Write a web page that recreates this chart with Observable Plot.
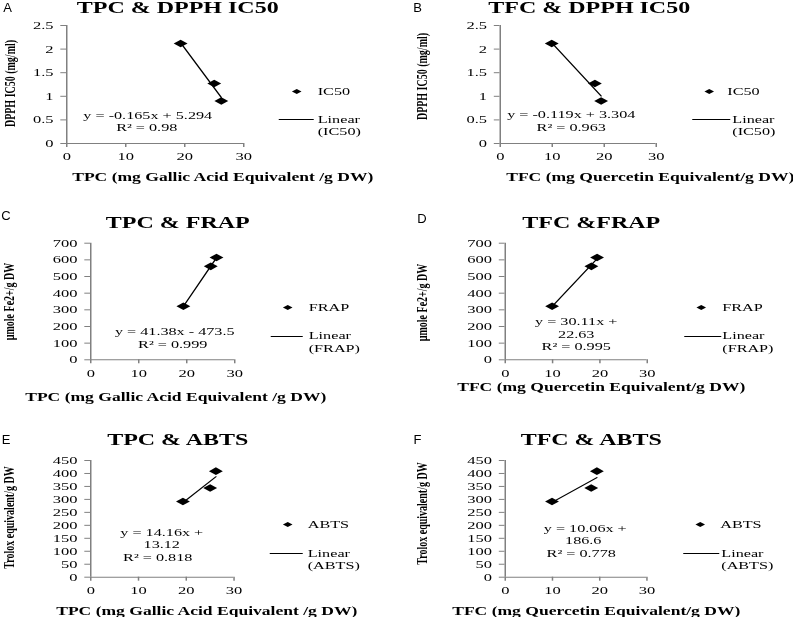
<!DOCTYPE html>
<html><head><meta charset="utf-8">
<script src="https://cdn.jsdelivr.net/npm/d3@7"></script>
<script src="https://cdn.jsdelivr.net/npm/@observablehq/plot@0.6"></script>
<style>
html,body{margin:0;padding:0;background:#fff;}
#fig{position:relative;width:793px;height:617px;overflow:hidden;background:#fff;}
#stage{position:absolute;left:0;top:0;height:617px;transform-origin:0 0;}
.panel{position:absolute;}
.letter{position:absolute;font-family:"Liberation Sans",Arial,sans-serif;font-size:13px;line-height:1;transform:translate(-50%,-50%);color:#000;}
</style></head><body>
<div id="fig"><div id="stage"></div></div>
<script>
// ---- data ----
const tpc  = [19.3, 25.0, 26.2];   // mg GAE / g DW
const tfc  = [9.9, 18.2, 19.4];    // mg QE / g DW
const ic50 = [2.12, 1.27, 0.90];   // DPPH IC50 mg/ml
const frap = [321, 561, 614];      // µmole Fe2+/g DW
const abts = [292, 344, 409];      // Trolox equivalent/g DW

const xTicks    = [0, 10, 20, 30];
const ic50Ticks = [0, 0.5, 1, 1.5, 2, 2.5];
const frapTicks = [0, 100, 200, 300, 400, 500, 600, 700];
const abtsTicks = [0, 50, 100, 150, 200, 250, 300, 350, 400, 450];

const letters = ["A", "B", "C", "D", "E", "F"];
const titles  = ["TPC & DPPH IC50", "TFC & DPPH IC50", "TPC & FRAP", "TFC &FRAP", "TPC & ABTS", "TFC & ABTS"];
const xTitles = ["TPC (mg Gallic Acid Equivalent /g DW)", "TFC (mg Quercetin Equivalent/g DW)"];
const yTitles = ["DPPH IC50 (mg/ml)", "µmole Fe2+/g DW", "Trolox equivalent/g DW"];
const seriesNames = ["IC50", "FRAP", "ABTS"];
const equations = [
  ["y = -0.165x + 5.294", "R² = 0.98"],
  ["y = -0.119x + 3.304", "R² = 0.963"],
  ["y = 41.38x - 473.5", "R² = 0.999"],
  ["y = 30.11x +", "22.63", "R² = 0.995"],
  ["y = 14.16x +", "13.12", "R² = 0.818"],
  ["y = 10.06x +", "186.6", "R² = 0.778"]
];

// ---- layout (pixel positions in the final picture) ----
const SX = 1.5; // the reference figure is stretched horizontally
const layouts = [
  {ox:0,   oy:0,   w:400, h:200, x0:66,  x30:243,   y0:143,   yTop:25,
   title:[177,7.5], xT:[222,177], yT:[9,83], eq:[[147,115],[146,127.5]],
   dia:[296,91], lab:[317,91], line:[278,313,119], l1:[317,119], l2:[317,131.5], letter:[7.5,7]},
  {ox:400, oy:0,   w:393, h:200, x0:499, x30:655,   y0:143,   yTop:25,
   title:[588,7.5], xT:[649,177], yT:[420.5,76], eq:[[570,114.5],[570,127]],
   dia:[708,91], lab:[726,91], line:[691,729,119], l1:[731,119], l2:[731,131.5], letter:[417.5,7]},
  {ox:0,   oy:200, w:400, h:210, x0:90,  x30:234,   y0:359.3, yTop:242.7,
   title:[177,222], xT:[175,397], yT:[8,301], eq:[[174,331.5],[172,344]],
   dia:[287,307], lab:[308,307], line:[270,302,336], l1:[308,335.5], l2:[308,348], letter:[6,215]},
  {ox:400, oy:200, w:393, h:210, x0:504, x30:646,   y0:359.3, yTop:242.7,
   title:[590,222], xT:[600,387], yT:[420.5,302], eq:[[575,321.5],[575,334],[575,346.5]],
   dia:[700,307], lab:[721,307], line:[683,720,336], l1:[721,335.5], l2:[721,348], letter:[422,218]},
  {ox:0,   oy:410, w:400, h:207, x0:90,  x30:233.3, y0:576.7, yTop:460,
   title:[177,439], xT:[206,611], yT:[8.5,517], eq:[[161,532],[161,544.5],[157,557]],
   dia:[287,524], lab:[307,524], line:[269,302,553], l1:[307,553], l2:[307,565.5], letter:[6,439]},
  {ox:400, oy:410, w:393, h:207, x0:504, x30:645.7, y0:576.7, yTop:460,
   title:[590,439], xT:[595,611], yT:[420.5,513], eq:[[584,528],[582,540.5],[580,553]],
   dia:[699,524], lab:[719,524], line:[682,718,553], l1:[720,553], l2:[720,565.5], letter:[417.5,439]}
];

const panelData = [
  {xs: tpc, ys: ic50, yMax: 2.5, yTicks: ic50Ticks, xT: xTitles[0], yT: yTitles[0], s: seriesNames[0]},
  {xs: tfc, ys: ic50, yMax: 2.5, yTicks: ic50Ticks, xT: xTitles[1], yT: yTitles[0], s: seriesNames[0]},
  {xs: tpc, ys: frap, yMax: 700, yTicks: frapTicks, xT: xTitles[0], yT: yTitles[1], s: seriesNames[1]},
  {xs: tfc, ys: frap, yMax: 700, yTicks: frapTicks, xT: xTitles[1], yT: yTitles[1], s: seriesNames[1]},
  {xs: tpc, ys: abts, yMax: 450, yTicks: abtsTicks, xT: xTitles[0], yT: yTitles[2], s: seriesNames[2]},
  {xs: tfc, ys: abts, yMax: 450, yTicks: abtsTicks, xT: xTitles[1], yT: yTitles[2], s: seriesNames[2]}
];

const wideDiamond = {draw(ctx, size) {
  const r = Math.sqrt(size / Math.PI), rx = r * 1.1, ry = r * 0.9;
  ctx.moveTo(0, -ry); ctx.lineTo(rx, 0); ctx.lineTo(0, ry); ctx.lineTo(-rx, 0); ctx.closePath();
}};
const hline = {draw(ctx, size) {
  const r = Math.sqrt(size / Math.PI);
  ctx.moveTo(-r, 0); ctx.lineTo(r, 0);
}};

const axisColor = "#808080";
const annoSize = 10.8;
const serif = "'Liberation Serif','Times New Roman',serif";
const stage = document.getElementById("stage");
stage.style.width = (793 / SX) + "px";
stage.style.transform = `scaleX(${SX})`;
const fig = document.getElementById("fig");

panelData.forEach((p, k) => {
  const L = layouts[k];
  const mL = (L.x0 - L.ox) / SX, mR = (L.ox + L.w - L.x30) / SX;
  const mT = L.yTop - L.oy, mB = L.oy + L.h - L.y0;
  const at = (px, py) => ({frameAnchor: "top-left", dx: (px - L.ox) / SX - mL, dy: (py - L.oy) - mT});
  const rows = p.xs.map((x, i) => ({x, y: p.ys[i]}));
  const txt = (s, pos, o) => Plot.text([s], {text: d => d, ...at(pos[0], pos[1]), lineAnchor: "middle", fill: "black", ...o});

  const marks = [
    Plot.ruleX([0], {y1: 0, y2: p.yMax, stroke: axisColor}),
    Plot.ruleY([0], {x1: 0, x2: 30, stroke: axisColor}),
    Plot.axisX({ticks: xTicks, tickSize: 4, tickPadding: 5, stroke: axisColor, fill: "black", fontSize: 11, label: null, tickFormat: d => String(d)}),
    Plot.axisY({ticks: p.yTicks, tickSize: 3.8, tickPadding: 5, stroke: axisColor, fill: "black", fontSize: 11, label: null, tickFormat: d => String(d)}),
    Plot.linearRegressionY(rows, {x: "x", y: "y", ci: 0, stroke: "black", strokeWidth: 1}),
    Plot.dot(rows, {x: "x", y: "y", symbol: wideDiamond, r: 4.2, fill: "black", stroke: "none"}),
    txt(titles[k], L.title, {fontWeight: "bold", fontSize: 16, textAnchor: "middle"}),
    txt(p.xT, L.xT, {fontWeight: "bold", fontSize: 11.7, textAnchor: "middle"}),
    txt(p.yT, L.yT, {fontWeight: "bold", fontSize: 10, textAnchor: "middle", rotate: -90}),
    ...equations[k].map((s, i) => txt(s, L.eq[i], {fontSize: annoSize, textAnchor: "middle"})),
    Plot.dot([0], {...at(L.dia[0], L.dia[1]), symbol: wideDiamond, r: 2.9, fill: "black", stroke: "none"}),
    txt(p.s, L.lab, {fontSize: annoSize, textAnchor: "start"}),
    Plot.dot([0], {...at((L.line[0] + L.line[1]) / 2, L.line[2]), symbol: hline, r: (L.line[1] - L.line[0]) / 2 / SX, fill: "none", stroke: "black", strokeWidth: 1}),
    txt("Linear", L.l1, {fontSize: annoSize, textAnchor: "start"}),
    txt("(" + p.s + ")", L.l2, {fontSize: annoSize, textAnchor: "start"})
  ];

  const svg = Plot.plot({
    width: L.w / SX, height: L.h,
    marginLeft: mL, marginRight: mR, marginTop: mT, marginBottom: mB,
    x: {domain: [0, 30]},
    y: {domain: [0, p.yMax]},
    style: {fontFamily: serif, fontSize: "11px", color: "black", background: "transparent", overflow: "visible"},
    marks
  });
  const holder = document.createElement("div");
  holder.className = "panel";
  holder.style.left = (L.ox / SX) + "px";
  holder.style.top = L.oy + "px";
  holder.appendChild(svg);
  stage.appendChild(holder);

  const lt = document.createElement("div");
  lt.className = "letter";
  lt.textContent = letters[k];
  lt.style.left = L.letter[0] + "px";
  lt.style.top = L.letter[1] + "px";
  fig.appendChild(lt);
});
</script>
</body></html>
